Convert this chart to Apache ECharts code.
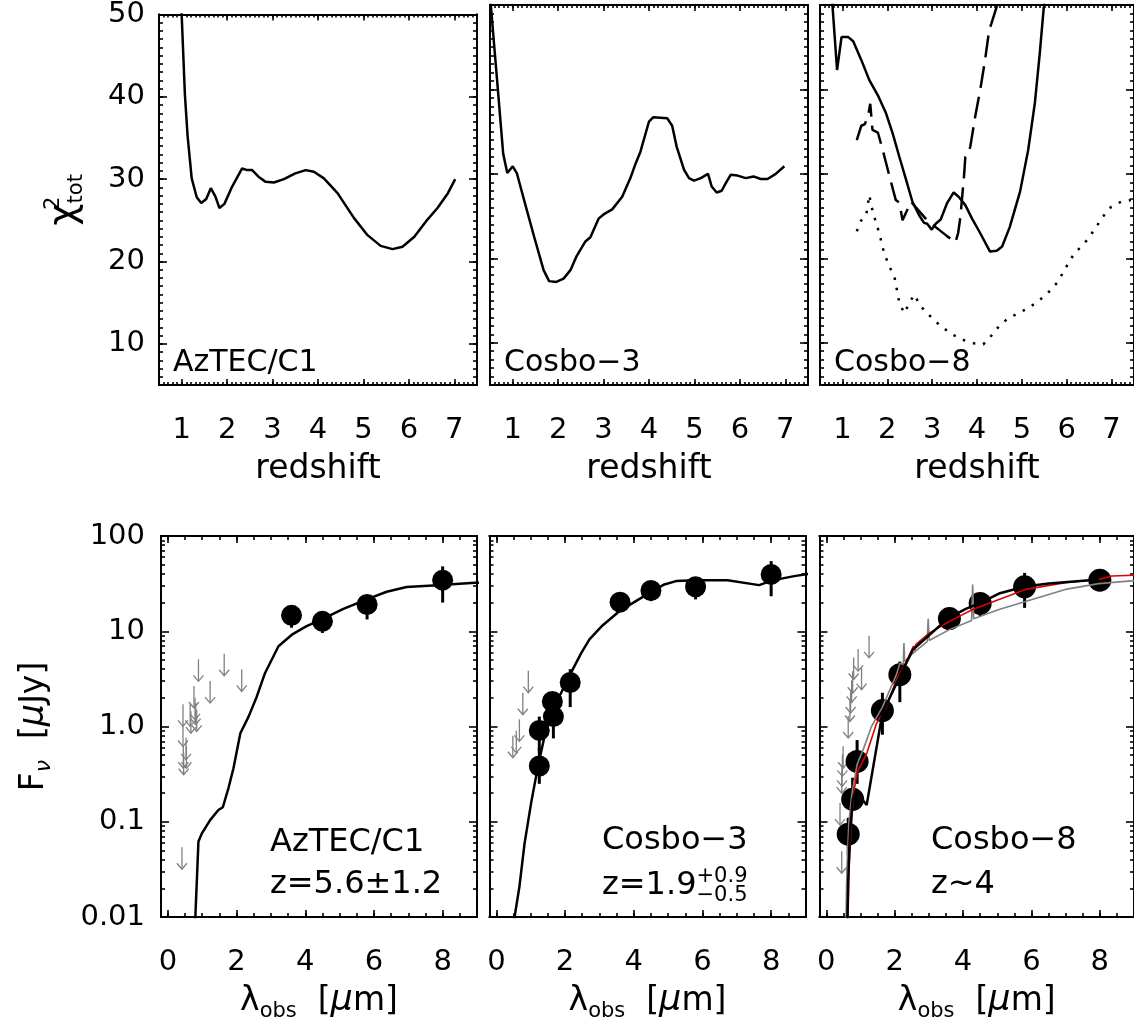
<!DOCTYPE html>
<html><head><meta charset="utf-8">
<script src="https://cdn.jsdelivr.net/npm/echarts@6/dist/echarts.min.js"></script>
<style>html,body{margin:0;padding:0;background:#fff}#c{width:1134px;height:1025px}</style>
</head><body><div id="c"></div>
<script>
// ---------------- DATA ----------------
const redshiftTicks = [1, 2, 3, 4, 5, 6, 7];
const chiTicks = [10, 20, 30, 40, 50];
const lambdaTicks = [0, 2, 4, 6, 8];
const fluxTickExp = [-2, -1, 0, 1, 2];
const fluxTickLabels = ['0.01', '0.1', '1.0', '10', '100'];
const panelNames = ['AzTEC/C1', 'Cosbo\u22123', 'Cosbo\u22128'];

// chi^2 vs redshift  [z, chi2]
const aztecChi = [[0.98,56],[1.0,49.8],[1.07,40.3],[1.13,35.2],[1.22,30.1],[1.33,27.8],[1.43,27.1],[1.54,27.6],[1.64,28.9],[1.74,27.9],[1.83,26.5],[1.94,27.0],[2.11,29.1],[2.33,31.3],[2.44,31.1],[2.55,31.1],[2.69,30.3],[2.84,29.7],[3.03,29.6],[3.25,30.0],[3.50,30.7],[3.73,31.1],[3.91,30.9],[4.13,30.1],[4.43,28.3],[4.79,25.3],[5.09,23.2],[5.38,21.9],[5.64,21.5],[5.86,21.8],[6.12,23.0],[6.38,24.9],[6.63,26.5],[6.86,28.3],[7.02,30.0]];
const cosbo3Chi = [[0.5,51.5],[0.52,49.8],[0.65,41.5],[0.79,32.4],[0.88,30.1],[1.0,30.9],[1.09,30.1],[1.27,26.5],[1.49,22.2],[1.68,18.6],[1.80,17.3],[1.96,17.2],[2.12,17.6],[2.27,18.6],[2.40,20.2],[2.60,22.0],[2.71,22.5],[2.89,24.7],[3.00,25.2],[3.19,25.8],[3.41,27.3],[3.59,29.5],[3.71,31.3],[3.81,32.6],[4.0,36.2],[4.09,36.7],[4.40,36.6],[4.51,35.7],[4.61,33.2],[4.77,30.5],[4.88,29.5],[4.99,29.2],[5.14,29.5],[5.30,30.0],[5.38,28.5],[5.49,27.8],[5.60,28.0],[5.69,28.9],[5.80,29.9],[5.95,29.8],[6.13,29.5],[6.30,29.7],[6.46,29.4],[6.61,29.4],[6.79,30.0],[6.98,30.9]];
const cosbo8ChiSolid = [[0.76,55],[0.78,49.8],[0.88,42.3],[0.98,46.2],[1.13,46.2],[1.24,45.7],[1.42,43.5],[1.60,41.1],[1.79,39.3],[1.97,37.2],[2.12,34.8],[2.27,32.0],[2.42,29.3],[2.56,26.7],[2.71,25.1],[2.82,24.2],[2.89,24.1],[2.99,23.4],[3.08,24.1],[3.19,24.6],[3.33,26.5],[3.48,27.8],[3.59,27.3],[3.74,26.3],[3.89,24.7],[4.07,23.0],[4.29,20.8],[4.44,20.9],[4.56,21.4],[4.73,23.7],[4.96,27.9],[5.14,32.8],[5.29,38.4],[5.40,44.3],[5.49,49.8],[5.55,55]];
const cosbo8ChiDashed = [[1.32,34.0],[1.42,35.7],[1.50,35.9],[1.57,36.8],[1.62,38.3],[1.67,35.2],[1.79,34.9],[1.90,32.8],[2.05,29.7],[2.19,26.9],[2.27,26.6],[2.34,24.5],[2.53,26.7],[2.89,24.5],[3.15,23.4],[3.34,22.6],[3.52,21.9],[3.58,23.0],[3.63,24.9],[3.71,29.7],[3.74,32.0],[3.79,32.2],[3.85,33.2],[3.96,36.8],[4.07,39.9],[4.18,43.5],[4.27,47.0],[4.32,47.8],[4.44,49.8],[4.50,52]];
const cosbo8ChiDotted = [[1.32,23.2],[1.42,24.5],[1.53,25.1],[1.60,27.5],[1.64,26.3],[1.71,24.9],[1.82,23.0],[1.93,20.6],[2.05,19.0],[2.16,17.8],[2.27,14.7],[2.38,13.5],[2.49,14.7],[2.60,15.7],[2.75,14.3],[2.89,13.5],[3.08,12.5],[3.26,11.7],[3.48,10.9],[3.71,10.3],[3.96,9.9],[4.14,9.8],[4.33,10.9],[4.51,12.1],[4.70,12.9],[4.92,13.5],[5.14,14.1],[5.36,14.9],[5.58,15.9],[5.80,17.2],[5.99,19.0],[6.17,20.6],[6.40,21.8],[6.62,23.4],[6.80,24.9],[6.99,26.1],[7.21,26.7],[7.43,26.9]];

// photometry: [lambda, flux, low, high]  (uJy)
const aztecPhot = [[3.6,14.7,10.9,18.1],[4.5,12.7,9.6,15.6],[5.8,19.1,13.3,23.8],[8.0,34.4,20,48]];
const cosbo3Phot = [[1.25,0.91,0.55,1.27],[1.25,0.385,0.25,0.6],[1.63,1.83,1.5,2.2],[1.66,1.27,0.75,1.6],[2.15,2.9,1.6,4.0],[3.6,20.2,17,24],[4.5,26.8,20.7,31],[5.8,29.3,21.6,34.9],[8.0,39.5,23.3,54.5]];
const cosbo8Phot = [[0.64,0.074,0.045,0.11],[0.77,0.172,0.13,0.29],[0.90,0.43,0.25,0.72],[1.64,1.47,0.82,2.26],[2.15,3.5,1.8,4.8],[3.6,13.6,10.4,16.9],[4.5,19.6,14.4,24.3],[5.8,29.3,17.6,41],[8.0,34.4,31,38]];

// upper limits [lambda, flux]
const aztecLimits = [[0.41,0.054],[0.44,1.71],[0.44,1.05],[0.45,0.62],[0.46,0.53],[0.53,0.76],[0.54,0.62],[0.65,1.71],[0.67,1.45],[0.76,2.66],[0.79,2.0],[0.81,1.78],[0.84,1.51],[0.89,5.07],[1.23,3.0],[1.64,5.8],[2.15,3.98]];
const cosbo3Limits = [[0.48,0.8],[0.58,0.9],[0.67,1.19],[0.77,2.26],[0.93,3.86]];
const cosbo8Limits = [[1.25,8.95],[0.80,5.3],[0.93,6.5],[1.03,4.15],[0.77,3.8],[0.74,3.05],[0.71,2.36],[0.69,1.92],[0.64,1.29],[0.49,0.62],[0.47,0.51],[0.46,0.40],[0.45,0.34],[0.40,0.157],[0.45,0.049]];

// model SEDs [lambda, flux]
const aztecSed = [[0.79,0.005],[0.80,0.01],[0.89,0.062],[0.99,0.0755],[1.23,0.104],[1.47,0.133],[1.60,0.142],[1.77,0.23],[1.91,0.365],[2.11,0.85],[2.35,1.27],[2.59,2.07],[2.83,3.65],[3.22,6.95],[3.61,9.2],[4.04,11.3],[4.51,13.5],[5.11,17.2],[5.79,21.6],[6.37,26.0],[6.95,29.1],[7.72,30.3],[8.94,32.3],[9.2,32.5]];
const cosbo3Sed = [[0.48,0.004],[0.53,0.01],[0.67,0.0207],[0.82,0.059],[1.01,0.156],[1.20,0.365],[1.40,0.785],[1.64,1.5],[1.93,2.43],[2.22,3.95],[2.47,5.9],[2.71,8.2],[3.09,11.5],[3.58,16.2],[4.06,20.7],[4.55,26.4],[4.89,31.0],[5.23,33.6],[5.81,34.4],[6.73,34.4],[7.65,30.5],[8.04,34.2],[8.67,37.9],[9.1,40]];
const cosbo8SedBlack = [[0.60,0.005],[0.64,0.024],[0.69,0.075],[0.77,0.17],[0.86,0.21],[1.18,0.15],[1.64,1.38],[2.15,3.36],[2.53,6.4],[3.02,9.2],[3.58,13.8],[4.08,17.2],[4.52,20],[5.05,24.9],[5.81,29.5],[6.51,31.8],[7.97,35.0]];
const cosbo8SedRed = [[0.62,0.005],[0.66,0.03],[0.72,0.08],[0.80,0.2],[0.90,0.33],[1.18,0.52],[1.47,1.08],[1.76,1.62],[2.05,3.1],[2.34,4.8],[2.55,7.0],[2.58,6.3],[2.62,7.3],[3.02,9.6],[3.6,12.7],[4.28,16.9],[5.05,21.6],[5.83,27.5],[6.99,32.3],[7.97,35],[8.35,38],[9.1,38.9]];
const cosbo8SedGray = [[0.56,0.005],[0.6,0.03],[0.66,0.1],[0.75,0.2],[0.9,0.4],[1.1,0.6],[1.32,1.0],[1.64,1.6],[2.05,3.5],[2.15,4.6],[2.25,4.5],[2.27,7.5],[2.29,4.8],[2.44,5.5],[2.95,7.8],[2.98,13.5],[3.01,8.0],[3.6,10.4],[4.25,13.0],[4.28,31],[4.31,13.5],[5.05,16.9],[6.02,21.6],[6.99,27.5],[7.97,31.6],[9.1,34.2]];

// ---------------- LAYOUT / STYLE ----------------
const FONT = 'DejaVu Sans';
const TICK_FS = 29, NAME_FS = 33;
const topGrids = [{left:159,top:5,width:318,height:380},{left:490,top:5,width:318,height:380},{left:820,top:5,width:318,height:380}];
const botGrids = [{left:161,top:536,width:316,height:381},{left:489.5,top:536,width:316,height:381},{left:819.5,top:536,width:316,height:381}];
const Z_RANGE = [0.5, 7.5], CHI_RANGE = [5, 50], L_RANGE = [-0.2, 9], F_RANGE = [0.01, 100];

function range(a, b, s) { const r = []; for (let v = a; v <= b + 1e-9; v += s) r.push(Math.round(v * 1000) / 1000); return r; }
const zMinor = range(0.5, 7.5, 0.1), chiMinor = range(5, 50, 1), lMinor = range(0, 9, 0.5);
const fMinor = []; for (let d = -2; d < 2; d++) for (let k = 2; k <= 9; k++) fMinor.push(Math.log10(k) + d);

const grids = [], xAxes = [], yAxes = [], series = [];

function tickAxis(gi, pos, min, max, values, len, showLabel, extra) {
  const a = {
    type: 'value', gridIndex: gi, position: pos, min: min, max: max,
    axisLine: {show: true, onZero: false, lineStyle: {color: '#000', width: 2}},
    axisTick: {show: true, inside: true, length: len, customValues: values, lineStyle: {color: '#000', width: 1.6}},
    axisLabel: {show: showLabel, customValues: values, color: '#000', fontFamily: FONT, fontSize: TICK_FS},
    splitLine: {show: false}, axisPointer: {show: false}, silent: true
  };
  if (extra) { for (const k in extra) { if (k === 'axisLabel') Object.assign(a.axisLabel, extra[k]); else a[k] = extra[k]; } }
  return a;
}

const xIdx = [], yIdx = [];
// top row
topGrids.forEach((g, i) => {
  const gi = grids.length; grids.push(g);
  const xa = xAxes.length;
  xAxes.push(tickAxis(gi, 'bottom', Z_RANGE[0], Z_RANGE[1], redshiftTicks, 6, true, {
    axisLabel: {margin: 31}, name: 'redshift', nameLocation: 'middle', nameGap: 68,
    nameTextStyle: {color: '#000', fontFamily: FONT, fontSize: NAME_FS}}));
  xAxes.push(tickAxis(gi, 'bottom', Z_RANGE[0], Z_RANGE[1], zMinor, 3, false));
  xAxes.push(tickAxis(gi, 'top', Z_RANGE[0], Z_RANGE[1], redshiftTicks, 6, false));
  xAxes.push(tickAxis(gi, 'top', Z_RANGE[0], Z_RANGE[1], zMinor, 3, false));
  const ya = yAxes.length;
  const yExtra = {axisLabel: {margin: 14}};
  if (i === 0) {
    Object.assign(yExtra, {name: '{m|\u03c7}{p|2}{s|tot}', nameLocation: 'middle', nameRotate: 90, nameGap: 72,
      nameTextStyle: {color: '#000', fontFamily: FONT, rich: {
        m: {fontSize: 38, lineHeight: 44, fontFamily: FONT, color: '#000'},
        p: {fontSize: 21, lineHeight: 18, verticalAlign: 'top', width: 0, fontFamily: FONT, color: '#000'},
        s: {fontSize: 21, lineHeight: 16, verticalAlign: 'bottom', fontFamily: FONT, color: '#000'}}}});
  }
  yAxes.push(tickAxis(gi, 'left', CHI_RANGE[0], CHI_RANGE[1], chiTicks, 8, i === 0, yExtra));
  yAxes.push(tickAxis(gi, 'left', CHI_RANGE[0], CHI_RANGE[1], chiMinor, 4, false));
  yAxes.push(tickAxis(gi, 'right', CHI_RANGE[0], CHI_RANGE[1], chiTicks, 8, false));
  yAxes.push(tickAxis(gi, 'right', CHI_RANGE[0], CHI_RANGE[1], chiMinor, 4, false));
  xIdx.push(xa); yIdx.push(ya);
});
// bottom row
botGrids.forEach((g, i) => {
  const gi = grids.length; grids.push(g);
  const xa = xAxes.length;
  xAxes.push(tickAxis(gi, 'bottom', L_RANGE[0], L_RANGE[1], lambdaTicks, 7, true, {
    axisLabel: {margin: 31}, name: '{m|\u03bb}{s|obs}{m|  [}{g|\u03bc}{m|m]}', nameLocation: 'middle', nameGap: 63,
    nameTextStyle: {color: '#000', fontFamily: FONT, rich: {
      m: {fontSize: NAME_FS, lineHeight: 42, fontFamily: FONT, color: '#000'},
      g: {fontSize: NAME_FS + 2, lineHeight: 42, fontFamily: FONT, fontStyle: 'italic', color: '#000'},
      s: {fontSize: 21, lineHeight: 18, verticalAlign: 'bottom', fontFamily: FONT, color: '#000'}}}}));
  xAxes.push(tickAxis(gi, 'bottom', L_RANGE[0], L_RANGE[1], lMinor, 4, false));
  xAxes.push(tickAxis(gi, 'top', L_RANGE[0], L_RANGE[1], lambdaTicks, 7, false));
  xAxes.push(tickAxis(gi, 'top', L_RANGE[0], L_RANGE[1], lMinor, 4, false));
  const ya = yAxes.length;
  const yExtra = {axisLabel: {margin: 16, formatter: v => fluxTickLabels[fluxTickExp.indexOf(Math.round(v))]}};
  if (i === 0) {
    Object.assign(yExtra, {name: '{m|F}{s|\u03bd}{m|  [}{g|\u03bc}{m|Jy]}', nameLocation: 'middle', nameRotate: 90, nameGap: 106,
      nameTextStyle: {color: '#000', fontFamily: FONT, rich: {
        m: {fontSize: NAME_FS, lineHeight: 42, fontFamily: FONT, color: '#000'},
        g: {fontSize: NAME_FS + 2, lineHeight: 42, fontFamily: FONT, fontStyle: 'italic', color: '#000'},
        s: {fontSize: 22, lineHeight: 18, verticalAlign: 'bottom', fontFamily: FONT, fontStyle: 'italic', color: '#000'}}}});
  }
  yAxes.push(tickAxis(gi, 'left', -2, 2, fluxTickExp, 8, i === 0, yExtra));
  yAxes.push(tickAxis(gi, 'left', -2, 2, fMinor, 4, false));
  yAxes.push(tickAxis(gi, 'right', -2, 2, fluxTickExp, 8, false));
  yAxes.push(tickAxis(gi, 'right', -2, 2, fMinor, 4, false));
  const yl = yAxes.length;
  yAxes.push({type: 'log', logBase: 10, gridIndex: gi, min: F_RANGE[0], max: F_RANGE[1], show: false, position: 'left'});
  xIdx.push(xa); yIdx.push(yl);
});

function lineSeries(p, data, color, width, type) {
  series.push({type: 'line', xAxisIndex: xIdx[p], yAxisIndex: yIdx[p], data: data, showSymbol: false, symbol: 'none',
    smooth: false, silent: true, clip: true, animation: false,
    lineStyle: {color: color, width: width, type: type || 'solid', cap: 'butt'}});
}
function errSeries(p, data) {
  series.push({type: 'custom', xAxisIndex: xIdx[p], yAxisIndex: yIdx[p], data: data, silent: true, animation: false,
    encode: {x: 0, y: 1},
    renderItem: (params, api) => {
      const a = api.coord([api.value(0), api.value(2)]), b = api.coord([api.value(0), api.value(3)]);
      return {type: 'line', shape: {x1: a[0], y1: a[1], x2: b[0], y2: b[1]}, style: {stroke: '#000', lineWidth: 3}};
    }});
  series.push({type: 'scatter', xAxisIndex: xIdx[p], yAxisIndex: yIdx[p], data: data.map(d => [d[0], d[1]]),
    symbol: 'circle', symbolSize: p === 5 ? 23 : 21, itemStyle: {color: '#000', opacity: 1}, silent: true, animation: false});
}
function limitSeries(p, data) {
  series.push({type: 'custom', xAxisIndex: xIdx[p], yAxisIndex: yIdx[p], data: data, silent: true, animation: false,
    encode: {x: 0, y: 1},
    renderItem: (params, api) => {
      const c = api.coord([api.value(0), api.value(1)]);
      const L = 22, h = 6, w = 5, st = {stroke: '#808080', lineWidth: 1.3, fill: null};
      return {type: 'group', children: [
        {type: 'line', shape: {x1: c[0], y1: c[1], x2: c[0], y2: c[1] + L}, style: st},
        {type: 'polyline', shape: {points: [[c[0] - w, c[1] + L - h], [c[0], c[1] + L], [c[0] + w, c[1] + L - h]]}, style: st}
      ]};
    }});
}

lineSeries(0, aztecChi, '#000', 2.5);
lineSeries(1, cosbo3Chi, '#000', 2.5);
lineSeries(2, cosbo8ChiSolid, '#000', 2.5);
lineSeries(2, cosbo8ChiDashed, '#000', 2.5, [22, 9]);
lineSeries(2, cosbo8ChiDotted, '#000', 2.5, [2.5, 8]);

lineSeries(3, aztecSed, '#000', 2.5);
limitSeries(3, aztecLimits);
errSeries(3, aztecPhot);

lineSeries(4, cosbo3Sed, '#000', 2.5);
limitSeries(4, cosbo3Limits);
errSeries(4, cosbo3Phot);

lineSeries(5, cosbo8SedGray, '#808080', 1.6);
lineSeries(5, cosbo8SedRed, '#e00000', 1.6);
lineSeries(5, cosbo8SedBlack, '#000', 2.5);
limitSeries(5, cosbo8Limits);
errSeries(5, cosbo8Phot);

// ---------------- ANNOTATIONS ----------------
const txt = (x, y, text, size) => ({type: 'text', left: x, top: y, silent: true,
  style: {text: text, fill: '#000', font: size + 'px "' + FONT + '"'}});
const richTxt = (x, y, text) => ({type: 'text', left: x, top: y, silent: true,
  style: {text: text, fill: '#000', fontFamily: FONT, rich: {
    m: {fontSize: 32, lineHeight: 40, fontFamily: FONT, fill: '#000'},
    p: {fontSize: 21, lineHeight: 18, verticalAlign: 'top', width: 0, fontFamily: FONT, fill: '#000'},
    s: {fontSize: 21, lineHeight: 18, verticalAlign: 'bottom', fontFamily: FONT, fill: '#000'}}}});
const graphic = [
  txt(topGrids[0].left + 14, 348, panelNames[0], 30),
  txt(topGrids[1].left + 14, 348, panelNames[1], 30),
  txt(topGrids[2].left + 14, 348, panelNames[2], 30),
  txt(270, 827, panelNames[0], 32),
  richTxt(270, 869, '{m|z=5.6\u00b11.2}'),
  txt(602, 825, panelNames[1], 32),
  richTxt(602, 866, '{m|z=1.9}{p|+0.9}{s|\u22120.5}'),
  txt(931, 825, panelNames[2], 32),
  richTxt(931, 869, '{m|z~4}')
];

const chart = echarts.init(document.getElementById('c'), null, {renderer: 'canvas'});
chart.setOption({animation: false, backgroundColor: '#fff', grid: grids, xAxis: xAxes, yAxis: yAxes, series: series, graphic: graphic});
</script></body></html>
